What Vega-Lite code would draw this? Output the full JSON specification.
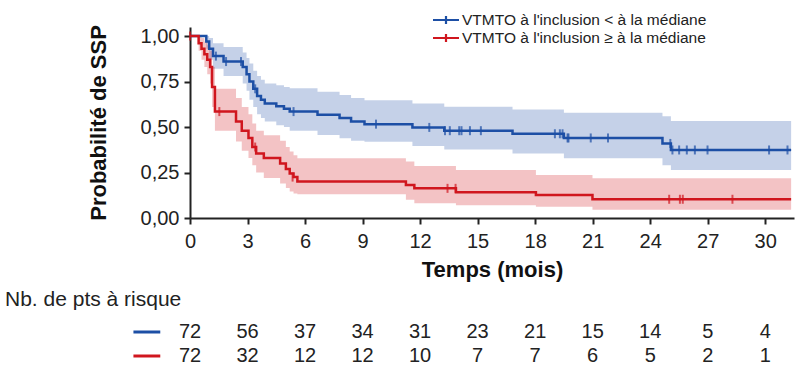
{
  "$schema": "https://vega.github.io/schema/vega-lite/v6.json",
  "padding": {"left": 5, "top": 12, "right": 5, "bottom": 0},
  "spacing": 9,
  "resolve": {"legend": {"color": "independent", "fill": "independent"}},
  "config": {
    "view": {"stroke": null},
    "font": "Liberation Sans",
    "axis": {"grid": false, "domainColor": "#222", "domainWidth": 2, "tickColor": "#222", "tickWidth": 2, "tickSize": 6, "labelColor": "#222", "labelFontSize": 20, "labelFont": "Liberation Sans", "titleFont": "Liberation Sans", "titleFontSize": 22, "titleFontWeight": "bold", "titleColor": "#111"}
  },
  "datasets": {
    "km": [
      {"grp": "VTMTO à l'inclusion < à la médiane", "t": 0, "s": 1, "lo": 1, "hi": 1},
      {"grp": "VTMTO à l'inclusion < à la médiane", "t": 0.85, "s": 0.97, "lo": 0.93, "hi": 1.0},
      {"grp": "VTMTO à l'inclusion < à la médiane", "t": 1.0, "s": 0.93, "lo": 0.87, "hi": 0.99},
      {"grp": "VTMTO à l'inclusion < à la médiane", "t": 1.2, "s": 0.89, "lo": 0.82, "hi": 0.96},
      {"grp": "VTMTO à l'inclusion < à la médiane", "t": 1.75, "s": 0.86, "lo": 0.78, "hi": 0.94},
      {"grp": "VTMTO à l'inclusion < à la médiane", "t": 2.75, "s": 0.83, "lo": 0.74, "hi": 0.91},
      {"grp": "VTMTO à l'inclusion < à la médiane", "t": 2.95, "s": 0.79, "lo": 0.70, "hi": 0.88},
      {"grp": "VTMTO à l'inclusion < à la médiane", "t": 3.1, "s": 0.75, "lo": 0.65, "hi": 0.85},
      {"grp": "VTMTO à l'inclusion < à la médiane", "t": 3.3, "s": 0.71, "lo": 0.61, "hi": 0.81},
      {"grp": "VTMTO à l'inclusion < à la médiane", "t": 3.5, "s": 0.67, "lo": 0.57, "hi": 0.78},
      {"grp": "VTMTO à l'inclusion < à la médiane", "t": 3.7, "s": 0.65, "lo": 0.55, "hi": 0.76},
      {"grp": "VTMTO à l'inclusion < à la médiane", "t": 3.9, "s": 0.63, "lo": 0.53, "hi": 0.74},
      {"grp": "VTMTO à l'inclusion < à la médiane", "t": 4.5, "s": 0.615, "lo": 0.51, "hi": 0.73},
      {"grp": "VTMTO à l'inclusion < à la médiane", "t": 4.9, "s": 0.60, "lo": 0.50, "hi": 0.72},
      {"grp": "VTMTO à l'inclusion < à la médiane", "t": 5.2, "s": 0.585, "lo": 0.48, "hi": 0.713},
      {"grp": "VTMTO à l'inclusion < à la médiane", "t": 6.65, "s": 0.567, "lo": 0.456, "hi": 0.694},
      {"grp": "VTMTO à l'inclusion < à la médiane", "t": 7.8, "s": 0.55, "lo": 0.438, "hi": 0.676},
      {"grp": "VTMTO à l'inclusion < à la médiane", "t": 8.4, "s": 0.53, "lo": 0.425, "hi": 0.66},
      {"grp": "VTMTO à l'inclusion < à la médiane", "t": 9.1, "s": 0.516, "lo": 0.419, "hi": 0.648},
      {"grp": "VTMTO à l'inclusion < à la médiane", "t": 11.6, "s": 0.498, "lo": 0.396, "hi": 0.63},
      {"grp": "VTMTO à l'inclusion < à la médiane", "t": 13.26, "s": 0.48, "lo": 0.377, "hi": 0.612},
      {"grp": "VTMTO à l'inclusion < à la médiane", "t": 16.82, "s": 0.463, "lo": 0.355, "hi": 0.597},
      {"grp": "VTMTO à l'inclusion < à la médiane", "t": 19.5, "s": 0.44, "lo": 0.328, "hi": 0.578},
      {"grp": "VTMTO à l'inclusion < à la médiane", "t": 24.64, "s": 0.41, "lo": 0.29, "hi": 0.56},
      {"grp": "VTMTO à l'inclusion < à la médiane", "t": 25.08, "s": 0.374, "lo": 0.264, "hi": 0.533},
      {"grp": "VTMTO à l'inclusion < à la médiane", "t": 31.35, "s": 0.374, "lo": 0.264, "hi": 0.533},
      {"grp": "VTMTO à l'inclusion ≥ à la médiane", "t": 0, "s": 1, "lo": 1, "hi": 1},
      {"grp": "VTMTO à l'inclusion ≥ à la médiane", "t": 0.45, "s": 0.96, "lo": 0.92, "hi": 1.0},
      {"grp": "VTMTO à l'inclusion ≥ à la médiane", "t": 0.6, "s": 0.93, "lo": 0.87, "hi": 0.99},
      {"grp": "VTMTO à l'inclusion ≥ à la médiane", "t": 0.75, "s": 0.90, "lo": 0.83, "hi": 0.97},
      {"grp": "VTMTO à l'inclusion ≥ à la médiane", "t": 0.9, "s": 0.87, "lo": 0.79, "hi": 0.95},
      {"grp": "VTMTO à l'inclusion ≥ à la médiane", "t": 1.05, "s": 0.83, "lo": 0.74, "hi": 0.92},
      {"grp": "VTMTO à l'inclusion ≥ à la médiane", "t": 1.15, "s": 0.72, "lo": 0.61, "hi": 0.83},
      {"grp": "VTMTO à l'inclusion ≥ à la médiane", "t": 1.3, "s": 0.585, "lo": 0.48, "hi": 0.71},
      {"grp": "VTMTO à l'inclusion ≥ à la médiane", "t": 2.4, "s": 0.53, "lo": 0.42, "hi": 0.66},
      {"grp": "VTMTO à l'inclusion ≥ à la médiane", "t": 2.7, "s": 0.48, "lo": 0.37, "hi": 0.61},
      {"grp": "VTMTO à l'inclusion ≥ à la médiane", "t": 3.05, "s": 0.44, "lo": 0.33, "hi": 0.57},
      {"grp": "VTMTO à l'inclusion ≥ à la médiane", "t": 3.25, "s": 0.39, "lo": 0.29, "hi": 0.52},
      {"grp": "VTMTO à l'inclusion ≥ à la médiane", "t": 3.45, "s": 0.355, "lo": 0.25, "hi": 0.48},
      {"grp": "VTMTO à l'inclusion ≥ à la médiane", "t": 3.85, "s": 0.33, "lo": 0.22, "hi": 0.455},
      {"grp": "VTMTO à l'inclusion ≥ à la médiane", "t": 4.7, "s": 0.30, "lo": 0.19, "hi": 0.425},
      {"grp": "VTMTO à l'inclusion ≥ à la médiane", "t": 5.0, "s": 0.27, "lo": 0.165, "hi": 0.39},
      {"grp": "VTMTO à l'inclusion ≥ à la médiane", "t": 5.2, "s": 0.245, "lo": 0.145, "hi": 0.365},
      {"grp": "VTMTO à l'inclusion ≥ à la médiane", "t": 5.4, "s": 0.225, "lo": 0.135, "hi": 0.345},
      {"grp": "VTMTO à l'inclusion ≥ à la médiane", "t": 5.6, "s": 0.20, "lo": 0.13, "hi": 0.328},
      {"grp": "VTMTO à l'inclusion ≥ à la médiane", "t": 11.26, "s": 0.181, "lo": 0.10, "hi": 0.31},
      {"grp": "VTMTO à l'inclusion ≥ à la médiane", "t": 11.7, "s": 0.163, "lo": 0.081, "hi": 0.286},
      {"grp": "VTMTO à l'inclusion ≥ à la médiane", "t": 13.87, "s": 0.142, "lo": 0.07, "hi": 0.264},
      {"grp": "VTMTO à l'inclusion ≥ à la médiane", "t": 18.04, "s": 0.126, "lo": 0.062, "hi": 0.236},
      {"grp": "VTMTO à l'inclusion ≥ à la médiane", "t": 20.99, "s": 0.103, "lo": 0.045, "hi": 0.218},
      {"grp": "VTMTO à l'inclusion ≥ à la médiane", "t": 31.35, "s": 0.103, "lo": 0.045, "hi": 0.218}
    ],
    "cens": [
      {"grp": "VTMTO à l'inclusion < à la médiane", "t": 1.35, "s": 0.89},
      {"grp": "VTMTO à l'inclusion < à la médiane", "t": 1.88, "s": 0.86},
      {"grp": "VTMTO à l'inclusion < à la médiane", "t": 2.66, "s": 0.86},
      {"grp": "VTMTO à l'inclusion < à la médiane", "t": 3.4, "s": 0.71},
      {"grp": "VTMTO à l'inclusion < à la médiane", "t": 5.4, "s": 0.585},
      {"grp": "VTMTO à l'inclusion < à la médiane", "t": 9.7, "s": 0.516},
      {"grp": "VTMTO à l'inclusion < à la médiane", "t": 12.48, "s": 0.498},
      {"grp": "VTMTO à l'inclusion < à la médiane", "t": 13.3, "s": 0.48},
      {"grp": "VTMTO à l'inclusion < à la médiane", "t": 13.55, "s": 0.48},
      {"grp": "VTMTO à l'inclusion < à la médiane", "t": 14.04, "s": 0.48},
      {"grp": "VTMTO à l'inclusion < à la médiane", "t": 14.16, "s": 0.48},
      {"grp": "VTMTO à l'inclusion < à la médiane", "t": 14.6, "s": 0.48},
      {"grp": "VTMTO à l'inclusion < à la médiane", "t": 15.17, "s": 0.48},
      {"grp": "VTMTO à l'inclusion < à la médiane", "t": 19.03, "s": 0.463},
      {"grp": "VTMTO à l'inclusion < à la médiane", "t": 19.29, "s": 0.463},
      {"grp": "VTMTO à l'inclusion < à la médiane", "t": 19.43, "s": 0.463},
      {"grp": "VTMTO à l'inclusion < à la médiane", "t": 19.69, "s": 0.44},
      {"grp": "VTMTO à l'inclusion < à la médiane", "t": 19.74, "s": 0.44},
      {"grp": "VTMTO à l'inclusion < à la médiane", "t": 20.9, "s": 0.44},
      {"grp": "VTMTO à l'inclusion < à la médiane", "t": 21.8, "s": 0.44},
      {"grp": "VTMTO à l'inclusion < à la médiane", "t": 25.05, "s": 0.41},
      {"grp": "VTMTO à l'inclusion < à la médiane", "t": 25.16, "s": 0.374},
      {"grp": "VTMTO à l'inclusion < à la médiane", "t": 25.51, "s": 0.374},
      {"grp": "VTMTO à l'inclusion < à la médiane", "t": 25.91, "s": 0.374},
      {"grp": "VTMTO à l'inclusion < à la médiane", "t": 26.33, "s": 0.374},
      {"grp": "VTMTO à l'inclusion < à la médiane", "t": 26.99, "s": 0.374},
      {"grp": "VTMTO à l'inclusion < à la médiane", "t": 30.2, "s": 0.374},
      {"grp": "VTMTO à l'inclusion < à la médiane", "t": 31.16, "s": 0.374},
      {"grp": "VTMTO à l'inclusion ≥ à la médiane", "t": 0, "s": 1},
      {"grp": "VTMTO à l'inclusion ≥ à la médiane", "t": 1.53, "s": 0.585},
      {"grp": "VTMTO à l'inclusion ≥ à la médiane", "t": 3.4, "s": 0.39},
      {"grp": "VTMTO à l'inclusion ≥ à la médiane", "t": 5.35, "s": 0.225},
      {"grp": "VTMTO à l'inclusion ≥ à la médiane", "t": 13.43, "s": 0.163},
      {"grp": "VTMTO à l'inclusion ≥ à la médiane", "t": 13.85, "s": 0.163},
      {"grp": "VTMTO à l'inclusion ≥ à la médiane", "t": 24.99, "s": 0.103},
      {"grp": "VTMTO à l'inclusion ≥ à la médiane", "t": 25.55, "s": 0.103},
      {"grp": "VTMTO à l'inclusion ≥ à la médiane", "t": 25.7, "s": 0.103},
      {"grp": "VTMTO à l'inclusion ≥ à la médiane", "t": 28.29, "s": 0.103}
    ],
    "risk": [
      {"grp": "VTMTO à l'inclusion < à la médiane", "t": 0, "n": 72},
      {"grp": "VTMTO à l'inclusion < à la médiane", "t": 3, "n": 56},
      {"grp": "VTMTO à l'inclusion < à la médiane", "t": 6, "n": 37},
      {"grp": "VTMTO à l'inclusion < à la médiane", "t": 9, "n": 34},
      {"grp": "VTMTO à l'inclusion < à la médiane", "t": 12, "n": 31},
      {"grp": "VTMTO à l'inclusion < à la médiane", "t": 15, "n": 23},
      {"grp": "VTMTO à l'inclusion < à la médiane", "t": 18, "n": 21},
      {"grp": "VTMTO à l'inclusion < à la médiane", "t": 21, "n": 15},
      {"grp": "VTMTO à l'inclusion < à la médiane", "t": 24, "n": 14},
      {"grp": "VTMTO à l'inclusion < à la médiane", "t": 27, "n": 5},
      {"grp": "VTMTO à l'inclusion < à la médiane", "t": 30, "n": 4},
      {"grp": "VTMTO à l'inclusion ≥ à la médiane", "t": 0, "n": 72},
      {"grp": "VTMTO à l'inclusion ≥ à la médiane", "t": 3, "n": 32},
      {"grp": "VTMTO à l'inclusion ≥ à la médiane", "t": 6, "n": 12},
      {"grp": "VTMTO à l'inclusion ≥ à la médiane", "t": 9, "n": 12},
      {"grp": "VTMTO à l'inclusion ≥ à la médiane", "t": 12, "n": 10},
      {"grp": "VTMTO à l'inclusion ≥ à la médiane", "t": 15, "n": 7},
      {"grp": "VTMTO à l'inclusion ≥ à la médiane", "t": 18, "n": 7},
      {"grp": "VTMTO à l'inclusion ≥ à la médiane", "t": 21, "n": 6},
      {"grp": "VTMTO à l'inclusion ≥ à la médiane", "t": 24, "n": 5},
      {"grp": "VTMTO à l'inclusion ≥ à la médiane", "t": 27, "n": 2},
      {"grp": "VTMTO à l'inclusion ≥ à la médiane", "t": 30, "n": 1}
    ],
    "dash": [
      {"grp": "VTMTO à l'inclusion < à la médiane", "t0": -2.95, "t1": -1.55},
      {"grp": "VTMTO à l'inclusion ≥ à la médiane", "t0": -2.95, "t1": -1.55}
    ]
  },
  "vconcat": [
    {
      "width": 604,
      "height": 191,
      "layer": [
        {
          "data": {"name": "km"},
          "mark": {"type": "area", "interpolate": "step-after", "fillOpacity": 0.26},
          "encoding": {
            "x": {"field": "t", "type": "quantitative", "scale": {"domain": [0, 31.5], "nice": false, "zero": false},
              "axis": {"values": [0, 3, 6, 9, 12, 15, 18, 21, 24, 27, 30], "format": "d", "title": "Temps (mois)", "labelPadding": 7, "titlePadding": 8, "labelFlush": false, "labelOverlap": false}},
            "y": {"field": "hi", "type": "quantitative", "scale": {"domain": [0, 1.05], "nice": false},
              "axis": {"values": [0, 0.25, 0.5, 0.75, 1], "labelExpr": "replace(format(datum.value, '.2f'), '.', ',')", "title": "Probabilité de SSP", "labelPadding": 5, "titlePadding": 30}},
            "y2": {"field": "lo"},
            "fill": {"field": "grp", "type": "nominal", "scale": {"range": ["#1d4fa5", "#d0161e"]}, "legend": null}
          }
        },
        {
          "data": {"name": "km"},
          "mark": {"type": "line", "interpolate": "step-after", "strokeWidth": 2.5},
          "encoding": {
            "x": {"field": "t", "type": "quantitative"},
            "y": {"field": "s", "type": "quantitative"},
            "color": {"field": "grp", "type": "nominal", "scale": {"domain": ["VTMTO à l'inclusion < à la médiane", "VTMTO à l'inclusion ≥ à la médiane"], "range": ["#1d4fa5", "#d0161e"]},
              "legend": {"orient": "none", "legendX": 248, "legendY": -15, "title": null, "symbolType": "M-2,0H2M0,-0.6V0.6", "symbolSize": 169, "symbolStrokeWidth": 2.2, "labelFontSize": 15.5, "labelFont": "Liberation Sans", "labelColor": "#222", "labelOffset": 8, "rowPadding": 0, "labelLimit": 400}}
          }
        },
        {
          "data": {"name": "cens"},
          "mark": {"type": "tick", "orient": "vertical", "size": 9, "thickness": 2},
          "encoding": {
            "x": {"field": "t", "type": "quantitative"},
            "y": {"field": "s", "type": "quantitative"},
            "fill": {"field": "grp", "type": "nominal", "legend": null}
          }
        }
      ]
    },
    {
      "width": 604,
      "height": 48,
      "title": {"text": "Nb. de pts à risque", "anchor": "start", "frame": "group", "dx": -185, "fontSize": 21, "fontWeight": "normal", "font": "Liberation Sans", "color": "#222", "offset": 10},
      "layer": [
        {
          "data": {"name": "risk"},
          "mark": {"type": "text", "fontSize": 20, "font": "Liberation Sans", "color": "#222", "baseline": "middle"},
          "encoding": {
            "x": {"field": "t", "type": "quantitative", "scale": {"domain": [0, 31.5], "nice": false, "zero": false}, "axis": null},
            "y": {"field": "grp", "type": "nominal", "scale": {"type": "point", "padding": 0.5, "domain": ["VTMTO à l'inclusion < à la médiane", "VTMTO à l'inclusion ≥ à la médiane"]}, "axis": null},
            "text": {"field": "n", "type": "quantitative"}
          }
        },
        {
          "data": {"name": "dash"},
          "transform": [{"filter": "datum.grp === \"VTMTO à l'inclusion < à la médiane\""}],
          "mark": {"type": "rule", "color": "#1d4fa5", "strokeWidth": 3},
          "encoding": {
            "x": {"field": "t0", "type": "quantitative"},
            "x2": {"field": "t1"},
            "y": {"field": "grp", "type": "nominal"}
          }
        },
        {
          "data": {"name": "dash"},
          "transform": [{"filter": "datum.grp !== \"VTMTO à l'inclusion < à la médiane\""}],
          "mark": {"type": "rule", "color": "#d0161e", "strokeWidth": 3},
          "encoding": {
            "x": {"field": "t0", "type": "quantitative"},
            "x2": {"field": "t1"},
            "y": {"field": "grp", "type": "nominal"}
          }
        }
      ]
    }
  ]
}
